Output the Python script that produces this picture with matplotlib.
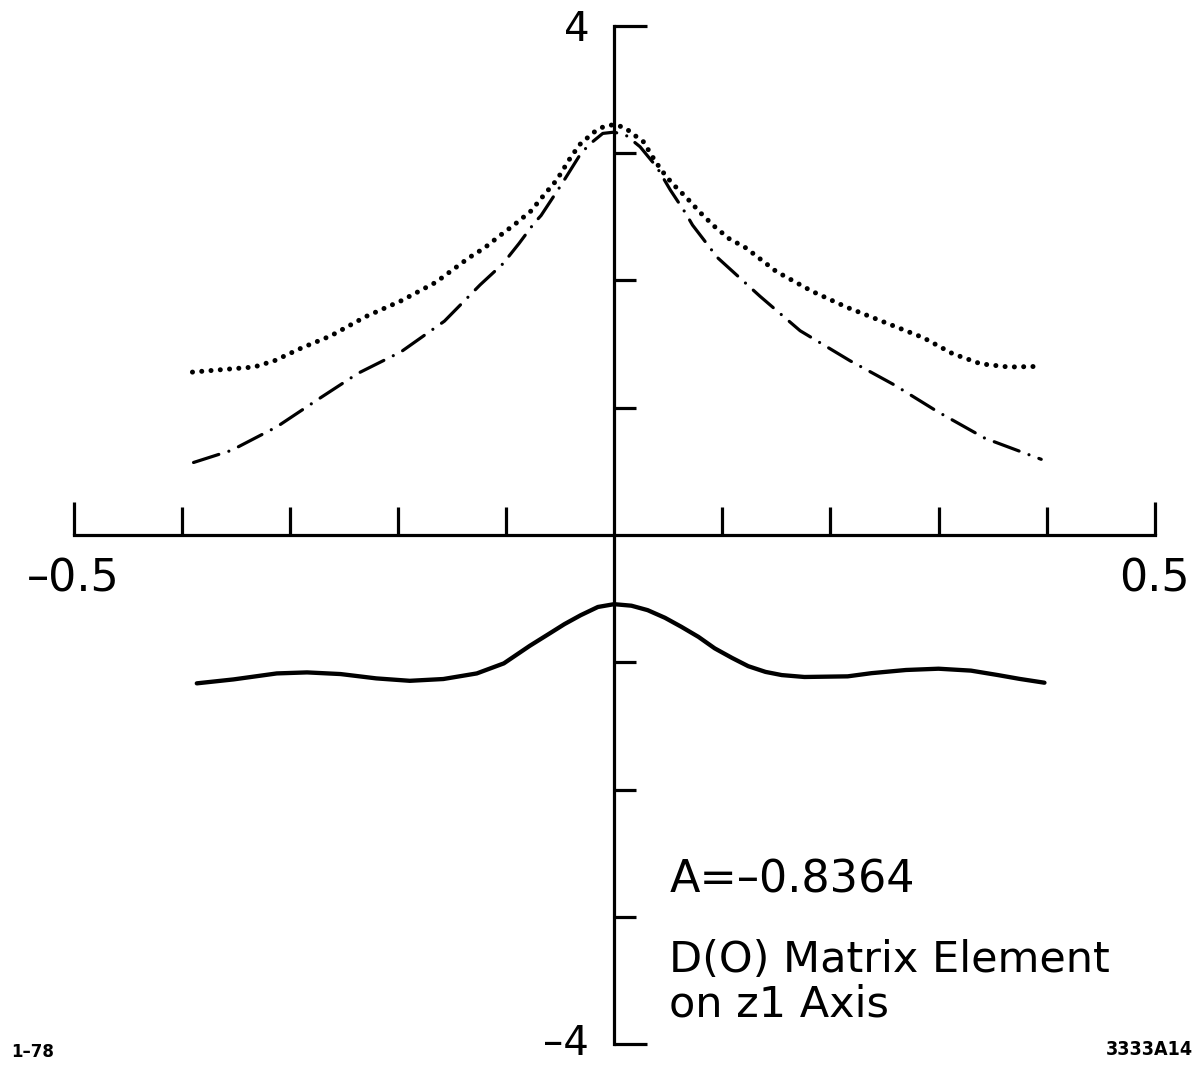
import numpy as np
import matplotlib.pyplot as plt
import matplotlib.transforms as mtransforms
from matplotlib.ticker import FixedLocator

# Dotted curve (upper)
x_dot = [-0.390, -0.362, -0.333, -0.314, -0.289, -0.262, -0.230, -0.197, -0.165,
         -0.134, -0.120, -0.106, -0.092, -0.077, -0.065, -0.053, -0.040, -0.0315,
         -0.019, -0.010, 0.0, 0.010, 0.019, 0.027, 0.0385, 0.047, 0.054, 0.067,
         0.080, 0.092, 0.106, 0.122, 0.150, 0.183, 0.215, 0.252, 0.286, 0.313,
         0.339, 0.365, 0.395]
y_dot = [1.28, 1.30, 1.32, 1.37, 1.47, 1.565, 1.715, 1.84, 1.985,
         2.18, 2.255, 2.35, 2.44, 2.545, 2.67, 2.79, 2.97, 3.07,
         3.163, 3.207, 3.225, 3.20, 3.14, 3.09, 2.93, 2.83, 2.76, 2.65,
         2.53, 2.43, 2.33, 2.255, 2.07, 1.915, 1.79, 1.665, 1.55, 1.425,
         1.345, 1.32, 1.325]

# Dash-dot curve
x_dd = [-0.389, -0.354, -0.312, -0.274, -0.237, -0.197, -0.157, -0.124, -0.103,
        -0.088, -0.074, -0.0676, -0.049, -0.0306, -0.0213, -0.0105, 0.0, 0.011,
        0.024, 0.0395, 0.052, 0.066, 0.0725, 0.0955, 0.135, 0.172, 0.218,
        0.259, 0.299, 0.343, 0.395]
y_dd = [0.57, 0.665, 0.85, 1.065, 1.27, 1.44, 1.68, 1.965, 2.13,
        2.29, 2.45, 2.51, 2.75, 3.0, 3.08, 3.155, 3.165, 3.14,
        3.05, 2.89, 2.71, 2.53, 2.435, 2.18, 1.875, 1.605, 1.37,
        1.18, 0.97, 0.76, 0.595]

# Solid curve (below the axis)
x_sol = [-0.386, -0.352, -0.312, -0.284, -0.253, -0.220, -0.189, -0.158, -0.127,
         -0.102, -0.078, -0.061, -0.046, -0.031, -0.015, 0.0, 0.016, 0.031, 0.047,
         0.062, 0.078, 0.093, 0.109, 0.124, 0.140, 0.155, 0.176, 0.216, 0.238,
         0.270, 0.300, 0.330, 0.355, 0.375, 0.398]
y_sol = [-1.165, -1.134, -1.087, -1.079, -1.092, -1.126, -1.145, -1.131, -1.087,
         -1.008, -0.87, -0.78, -0.70, -0.63, -0.565, -0.543, -0.555, -0.59, -0.65,
         -0.72, -0.80, -0.89, -0.965, -1.03, -1.075, -1.10, -1.115, -1.11, -1.085,
         -1.06, -1.05, -1.065, -1.10, -1.13, -1.16]

x_major = [-0.5, 0.5]
x_minor = [-0.4, -0.3, -0.2, -0.1, 0.1, 0.2, 0.3, 0.4]
x_labels = ['\u20130.5', '0.5']
y_major = [-4, 4]
y_minor = [-3, -2, -1, 1, 2, 3]
y_labels = ['\u20134', '4']

fig = plt.figure(figsize=(11.98, 10.65), dpi=100)
ax = fig.add_axes([0, 0, 1, 1])
ax.set_xlim(-0.568, 0.540)
ax.set_ylim(-4.163, 4.203)

ax.plot(x_dot, y_dot, color='black', lw=3.6,
        linestyle=(0, (0.01, 1.85)), dash_capstyle='round')
ax.plot(x_dd, y_dd, color='black', lw=2.3,
        linestyle=(0, (8.3, 3.3, 0.01, 3.3)), dash_capstyle='round')
ax.plot(x_sol, y_sol, color='black', lw=3.1, solid_capstyle='round',
        solid_joinstyle='round')

# Cross-shaped axes through the origin
for side in ['top', 'right']:
    ax.spines[side].set_visible(False)
ax.spines['left'].set_position(('data', 0))
ax.spines['bottom'].set_position(('data', 0))
ax.spines['left'].set_bounds(-4, 4)
ax.spines['bottom'].set_bounds(-0.5, 0.5)
for side in ['left', 'bottom']:
    ax.spines[side].set_linewidth(2.3)

ax.xaxis.set_major_locator(FixedLocator(x_major))
ax.xaxis.set_minor_locator(FixedLocator(x_minor))
ax.yaxis.set_major_locator(FixedLocator(y_major))
ax.yaxis.set_minor_locator(FixedLocator(y_minor))
ax.set_xticklabels(x_labels)
ax.set_yticklabels(y_labels)

ax.tick_params(axis='x', which='major', direction='in', length=24, width=2.3,
               labelsize=32, pad=16)
ax.tick_params(axis='x', which='minor', direction='in', length=20, width=2.3)
ax.tick_params(axis='y', which='major', direction='in', length=24, width=2.3,
               labelsize=29, pad=18)
ax.tick_params(axis='y', which='minor', direction='in', length=16, width=2.3)

# nudge the bottom label up so it stays inside the figure
bottom_label = ax.get_yticklabels()[0]
bottom_label.set_transform(bottom_label.get_transform() +
                           mtransforms.ScaledTranslation(0, 0.05, fig.dpi_scale_trans))

ax.text(0.051, -2.81, 'A=\u20130.8364', fontsize=32, va='baseline')
ax.text(0.051, -3.43, 'D(O) Matrix Element', fontsize=31, va='baseline')
ax.text(0.051, -3.78, 'on z1 Axis', fontsize=31, va='baseline')

fig.text(0.009, 0.004, '1\u201378', fontsize=12, fontweight='bold', va='bottom')
fig.text(0.996, 0.006, '3333A14', fontsize=14, fontweight='bold',
         fontstretch='condensed', ha='right', va='bottom')

fig.savefig('out.png', dpi=100)
